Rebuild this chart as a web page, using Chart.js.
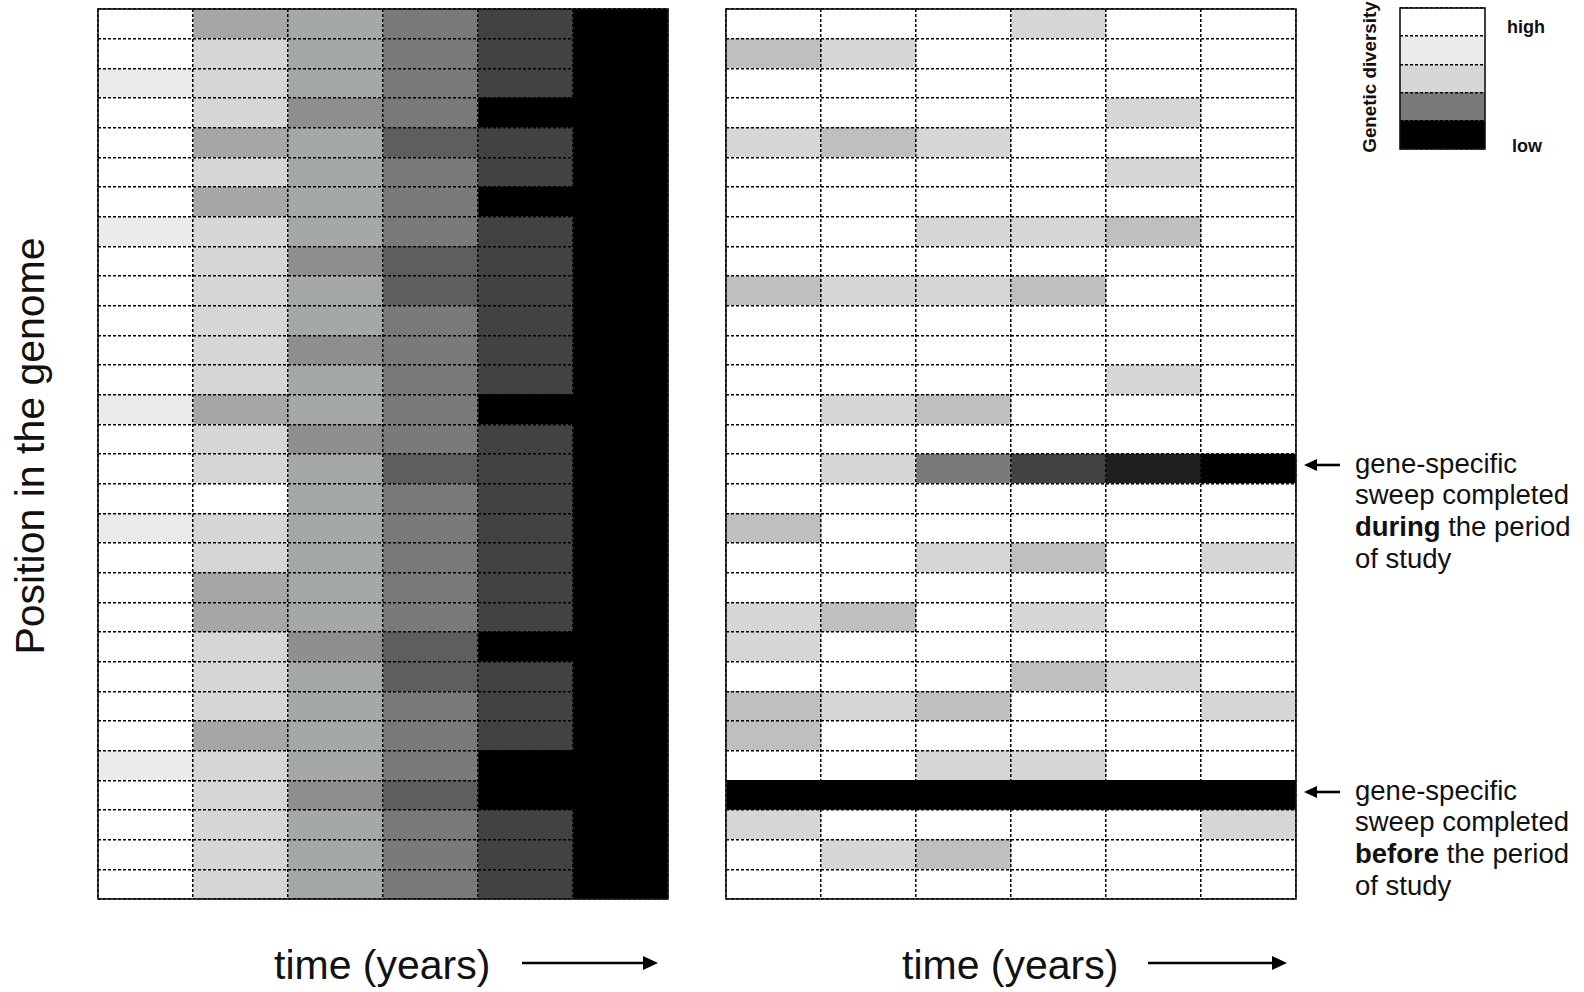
<!DOCTYPE html>
<html><head><meta charset="utf-8">
<script src="https://cdn.jsdelivr.net/npm/chart.js@4.4.1/dist/chart.umd.min.js"></script>
<style>
html,body{margin:0;padding:0;background:#fff;width:1584px;height:992px;overflow:hidden;}
body{position:relative;font-family:"Helvetica Neue","Liberation Sans",Arial,sans-serif;color:#111;}
canvas{position:absolute;}
.t{position:absolute;white-space:nowrap;line-height:1;font-weight:400;}
.b{font-weight:700;}
</style></head><body>

<canvas id="leftChart" style="left:95px;top:6px;width:576px;height:896px" width="576" height="896"></canvas>
<canvas id="rightChart" style="left:723px;top:6px;width:576px;height:896px" width="576" height="896"></canvas>
<canvas id="legendChart" style="left:1397px;top:5px;width:91px;height:155px" width="91" height="155"></canvas>

<div class="t" style="left:29.8px;top:445.5px;font-size:41px;transform:translate(-50%,-50%) rotate(-90deg);">Position in the genome</div>
<div class="t" style="left:274px;top:945.3px;font-size:41px;">time (years)</div>
<div class="t" style="left:902px;top:945.3px;font-size:41px;">time (years)</div>

<div class="t" style="left:1355px;top:447.6px;font-size:27.5px;line-height:31.7px;">gene-specific<br>sweep completed<br><span class="b">during</span> the period<br>of study</div>
<div class="t" style="left:1355px;top:774.6px;font-size:27.5px;line-height:31.7px;">gene-specific<br>sweep completed<br><span class="b">before</span> the period<br>of study</div>

<div class="t b" style="left:1507px;top:17.8px;font-size:18px;">high</div>
<div class="t b" style="left:1512px;top:136.8px;font-size:18px;">low</div>
<div class="t b" style="left:1369.6px;top:77px;font-size:18.8px;transform:translate(-50%,-50%) rotate(-90deg);">Genetic diversity</div>

<svg style="position:absolute;left:0;top:0;pointer-events:none" width="1584" height="992">
  <line x1="522" y1="963" x2="645" y2="963" stroke="#000" stroke-width="2.5"/>
  <polygon points="643,956 658,963 643,970" fill="#000"/>
  <line x1="1148" y1="963" x2="1273" y2="963" stroke="#000" stroke-width="2.5"/>
  <polygon points="1272,956 1287,963 1272,970" fill="#000"/>
  <line x1="1314" y1="465" x2="1340" y2="465" stroke="#000" stroke-width="2.6"/>
  <polygon points="1317,459 1304,465 1317,471" fill="#000"/>
  <line x1="1314" y1="792" x2="1340" y2="792" stroke="#000" stroke-width="2.6"/>
  <polygon points="1317,786 1304,792 1317,798" fill="#000"/>
</svg>

<script>
// ---- data ----
// genome positions (rows, top to bottom)
const positions = ['1','2','3','4','5','6','7','8','9','10','11','12','13','14','15','16','17','18','19','20','21','22','23','24','25','26','27','28','29','30'];
// sampling times (columns, left to right)
const timePoints = ['t1','t2','t3','t4','t5','t6'];
// gray levels (index into palette): 0 = highest diversity ... 11 = lowest
const palette = ['#ffffff','#ebebeb','#d6d6d6','#bfbfbf','#a6a6a6','#a4a8a6','#8f8f8f','#7a7a7a','#5e5e5e','#424242','#202020','#000000'];

// left panel: genome-wide sweep
const leftT1 = [0,0,1,0,0,0,0,1,0,0, 0,0,0,1,0,0,0,1,0,0, 0,0,0,0,0,1,0,0,0,0];
const leftT2 = [4,2,2,2,4,2,4,2,2,2, 2,2,2,4,2,2,0,2,2,4, 4,2,2,2,4,2,2,2,2,2];
const leftT3 = [5,5,5,6,5,5,5,5,6,5, 5,6,5,5,6,5,5,5,5,5, 5,6,5,5,5,5,6,5,5,5];
const leftT4 = [7,7,7,7,8,7,7,7,8,8, 7,7,7,7,7,8,7,7,7,7, 7,8,8,7,7,7,8,7,7,7];
const leftT5 = [9,9,9,11,9,9,11,9,9,9, 9,9,9,11,9,9,9,9,9,9, 9,11,9,9,9,11,11,9,9,9];
const leftT6 = [11,11,11,11,11,11,11,11,11,11, 11,11,11,11,11,11,11,11,11,11, 11,11,11,11,11,11,11,11,11,11];

// right panel: gene-specific sweeps
const rightT1 = [0,3,0,0,2,0,0,0,0,3, 0,0,0,0,0,0,0,3,0,0, 2,2,0,3,3,0,11,2,0,0];
const rightT2 = [0,2,0,0,3,0,0,0,0,2, 0,0,0,2,0,2,0,0,0,0, 3,0,0,2,0,0,11,0,2,0];
const rightT3 = [0,0,0,0,2,0,0,2,0,2, 0,0,0,3,0,7,0,0,2,0, 0,0,0,3,0,2,11,0,3,0];
const rightT4 = [2,0,0,0,0,0,0,2,0,3, 0,0,0,0,0,9,0,0,3,0, 2,0,3,0,0,2,11,0,0,0];
const rightT5 = [0,0,0,2,0,2,0,3,0,0, 0,0,2,0,0,10,0,0,0,0, 0,0,2,0,0,0,11,0,0,0];
const rightT6 = [0,0,0,0,0,0,0,0,0,0, 0,0,0,0,0,11,0,0,2,0, 0,0,0,2,0,0,11,2,0,0];

// legend scale
const legendLabels = ['high','','','','low'];
const legendLevels = [0,1,2,7,11];

// ---- drawing ----
const frame = {
  id: 'frame',
  afterDraw(chart) {
    const {ctx, chartArea: a} = chart;
    ctx.save();
    ctx.strokeStyle = '#111';
    ctx.lineWidth = 1.6;
    ctx.strokeRect(a.left, a.top, a.right - a.left, a.bottom - a.top);
    ctx.restore();
  }
};

const gridStyle = {color: '#000', lineWidth: 1.5, drawTicks: false, z: 1};
const gridDash = {display: false, dash: [3, 2]};

function heatmap(id, columns) {
  new Chart(document.getElementById(id), {
    type: 'bar',
    data: {
      labels: positions,
      datasets: columns.map((col, j) => ({
        label: timePoints[j],
        data: col.map(() => 1),
        backgroundColor: col.map(v => palette[v]),
        borderWidth: 0,
        barPercentage: 1,
        categoryPercentage: 1,
        stack: 'time'
      }))
    },
    options: {
      indexAxis: 'y',
      responsive: false,
      animation: false,
      layout: {padding: 3},
      plugins: {legend: {display: false}, tooltip: {enabled: false}},
      scales: {
        x: {
          type: 'linear', stacked: true, min: 0, max: timePoints.length,
          ticks: {display: false, stepSize: 1},
          grid: gridStyle,
          border: gridDash
        },
        y: {
          type: 'category', stacked: true,
          ticks: {display: false},
          grid: Object.assign({offset: true}, gridStyle),
          border: gridDash
        }
      }
    },
    plugins: [frame]
  });
}

heatmap('leftChart', [leftT1, leftT2, leftT3, leftT4, leftT5, leftT6]);
heatmap('rightChart', [rightT1, rightT2, rightT3, rightT4, rightT5, rightT6]);

new Chart(document.getElementById('legendChart'), {
  type: 'bar',
  data: {
    labels: legendLabels,
    datasets: [{
      label: 'Genetic diversity',
      data: legendLevels.map(() => 1),
      backgroundColor: legendLevels.map(v => palette[v]),
      borderWidth: 0,
      barPercentage: 1,
      categoryPercentage: 1
    }]
  },
  options: {
    indexAxis: 'y',
    responsive: false,
    animation: false,
    layout: {padding: 3},
    plugins: {legend: {display: false}, tooltip: {enabled: false}},
    scales: {
      x: {type: 'linear', min: 0, max: 1, ticks: {display: false}, grid: {display: false}, border: {display: false}},
      y: {
        type: 'category',
        ticks: {display: false},
        grid: Object.assign({offset: true}, gridStyle),
        border: gridDash
      }
    }
  },
  plugins: [frame]
});
</script>
</body></html>
